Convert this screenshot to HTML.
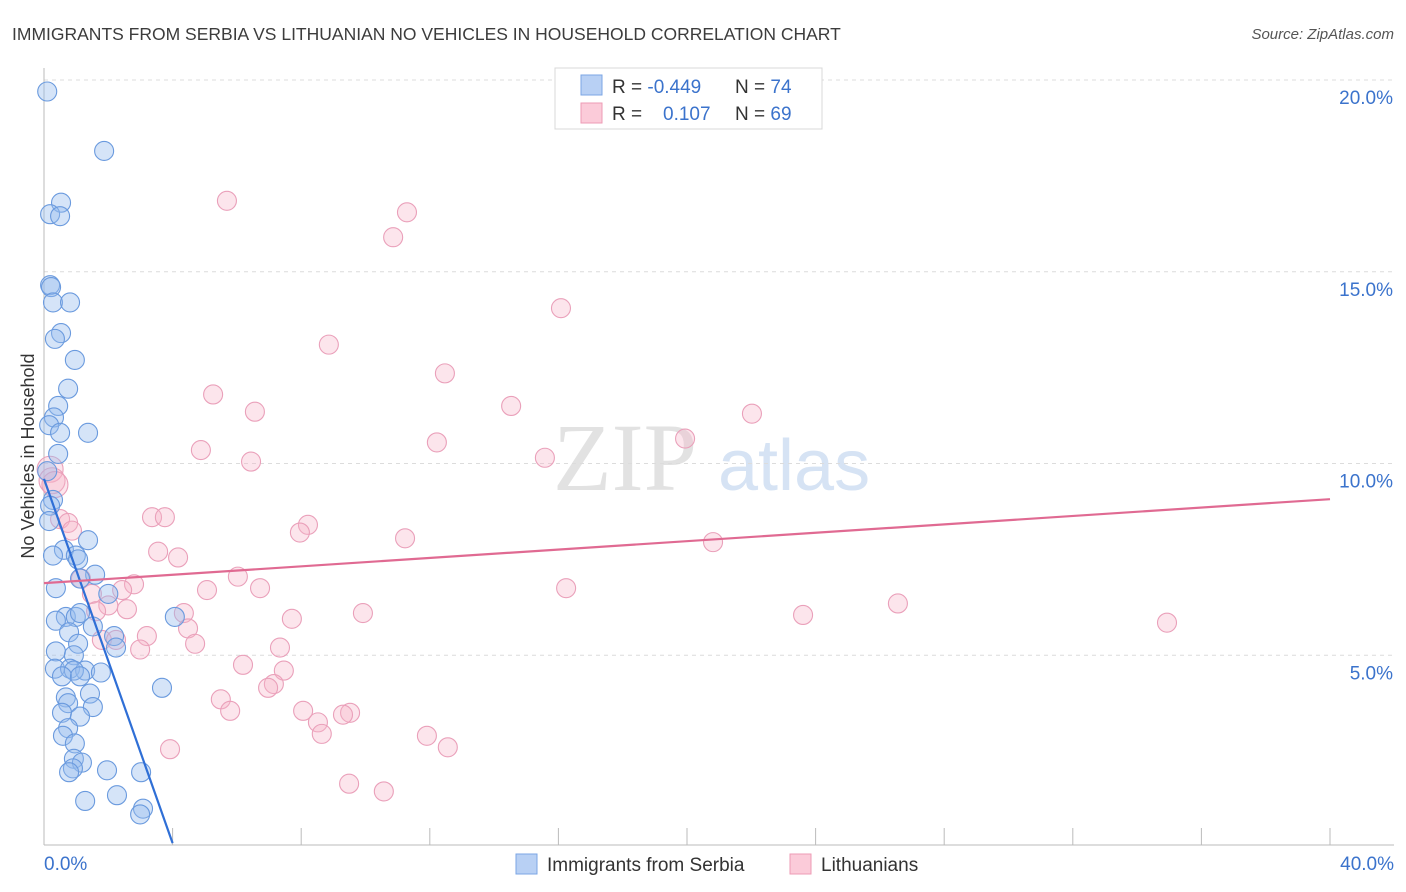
<!DOCTYPE html>
<html><head><meta charset="utf-8"><style>
body{margin:0;background:#fff;font-family:"Liberation Sans",sans-serif;}
svg{display:block}
</style></head><body>
<svg id="chart" width="1406" height="892" viewBox="0 0 1406 892">
<text x="12" y="40" font-size="17.5" fill="#3c3c3c">IMMIGRANTS FROM SERBIA VS LITHUANIAN NO VEHICLES IN HOUSEHOLD CORRELATION CHART</text>
<text x="1394" y="39" font-size="15" fill="#555" font-style="italic" text-anchor="end">Source: ZipAtlas.com</text>
<g>
<text x="553" y="490" font-family="Liberation Serif,serif" font-size="96" fill="#e2e2e2">ZIP</text>
<text x="718" y="490" font-size="72" fill="#d6e3f4">atlas</text>
</g>
<g id="grid"></g>
<g id="axes"></g>
<g id="pts"></g>
<g id="trends"></g>
<g>
<rect x="555" y="68" width="267" height="61" fill="#fff" stroke="#d8d8d8"/>
<rect x="581" y="75" width="21" height="20" fill="#b8d0f4" stroke="#7ba6e4"/>
<rect x="581" y="103" width="21" height="20" fill="#fbcbd9" stroke="#ee9bb5"/>
<text x="612" y="93" font-size="19" fill="#333">R = <tspan fill="#3b73cc">-0.449</tspan></text>
<text x="735" y="93" font-size="19" fill="#333">N = <tspan fill="#3b73cc">74</tspan></text>
<text x="612" y="120" font-size="19" fill="#333">R = </text>
<text x="663" y="120" font-size="19" fill="#3b73cc">0.107</text>
<text x="735" y="120" font-size="19" fill="#333">N = <tspan fill="#3b73cc">69</tspan></text>
</g>
<g>
<rect x="516" y="854" width="21" height="20" fill="#b8d0f4" stroke="#7ba6e4"/>
<text x="547" y="871" font-size="19" fill="#333">Immigrants from Serbia</text>
<rect x="790" y="854" width="21" height="20" fill="#fbcbd9" stroke="#ee9bb5"/>
<text x="821" y="871" font-size="19" fill="#333">Lithuanians</text>
</g>
<text transform="translate(34,456) rotate(-90)" font-size="18" fill="#333" text-anchor="middle">No Vehicles in Household</text>
</svg>
<script>
const yTicks=[5,10,15,20];
const yTickLabels=["5.0%","10.0%","15.0%","20.0%"];
const xTickVals=[0,4,8,12,16,20,24,28,32,36,40];
const xMinLabel="0.0%", xMaxLabel="40.0%";
const serbiaX=[0.1,1.87,0.53,0.19,0.5,0.19,0.22,0.28,0.81,0.53,0.34,0.96,0.75,0.44,0.31,0.16,0.5,1.37,0.44,0.1,0.28,0.19,0.16,1.37,0.62,0.99,0.28,1.06,1.59,1.12,0.37,2.0,0.68,0.99,0.37,1.12,4.07,1.52,0.78,2.18,1.06,2.24,0.37,0.93,0.34,0.81,1.28,0.93,1.77,0.56,1.12,3.67,1.43,0.68,0.75,1.52,0.56,1.12,0.75,0.59,0.96,0.93,1.18,0.9,0.78,1.96,3.02,2.27,1.28,3.08,2.99];
const serbiaY=[19.7,18.15,16.8,16.5,16.45,14.65,14.6,14.2,14.2,13.4,13.25,12.7,11.95,11.5,11.2,11.0,10.8,10.8,10.25,9.8,9.05,8.9,8.5,8.0,7.75,7.6,7.6,7.5,7.1,7.0,6.75,6.6,6.0,6.0,5.9,6.1,6.0,5.75,5.6,5.5,5.3,5.2,5.1,5.0,4.65,4.65,4.6,4.6,4.55,4.45,4.45,4.15,4.0,3.9,3.75,3.65,3.5,3.4,3.1,2.9,2.7,2.3,2.2,2.05,1.95,2.0,1.95,1.35,1.2,1.0,0.85];
const lithX=[5.69,11.29,10.86,16.08,8.86,12.47,5.26,14.53,6.56,22.02,19.94,12.22,4.88,15.58,6.44,0.19,0.25,0.34,3.36,3.76,0.5,0.75,8.21,7.96,0.87,11.23,20.81,3.55,4.17,1.15,6.03,2.8,2.43,6.72,16.24,5.07,1.49,2.0,26.56,1.62,2.58,9.92,23.61,4.35,7.71,34.93,4.48,3.2,1.8,2.24,4.7,2.99,7.34,6.19,7.46,7.15,6.97,5.5,5.79,8.06,9.52,9.3,8.52,8.64,11.91,12.56,3.92,9.49,10.57];
const lithY=[16.85,16.55,15.9,14.05,13.1,12.35,11.8,11.5,11.35,11.3,10.65,10.55,10.35,10.15,10.05,9.85,9.55,9.45,8.6,8.6,8.55,8.45,8.4,8.2,8.25,8.05,7.95,7.7,7.55,7.0,7.05,6.85,6.7,6.75,6.75,6.7,6.6,6.3,6.35,6.15,6.2,6.1,6.05,6.1,5.95,5.85,5.7,5.5,5.4,5.4,5.3,5.15,5.2,4.75,4.6,4.25,4.15,3.85,3.55,3.55,3.5,3.45,3.25,2.95,2.9,2.6,2.55,1.65,1.45];
const serbiaTrendX=[0,4.0];
const serbiaTrendY=[9.6,0.1];
const lithTrendX=[0,40];
const lithTrendY=[6.88,9.07];

const X0=44,X1=1330,Y0=847,YPX=38.35;
const sx=v=>X0+(X1-X0)*v/40;
const sy=v=>Y0-v*YPX;
const NS="http://www.w3.org/2000/svg";
function mk(tag,attrs,parent){const e=document.createElementNS(NS,tag);for(const k in attrs)e.setAttribute(k,attrs[k]);document.getElementById(parent).appendChild(e);return e;}

yTicks.forEach((t,i)=>{
  const l=mk('line',{x1:X0,x2:1394,y1:sy(t),y2:sy(t),stroke:'#dcdcdc','stroke-dasharray':'4,4'},'grid');
  
  
  const tx=mk('text',{x:1393,y:sy(t)+24,'font-size':19,fill:'#3b73cc','text-anchor':'end'},'grid');
  tx.textContent=yTickLabels[i];
  
  
});
let a=mk('line',{x1:X0,x2:X0,y1:68,y2:845,stroke:'#bbb'},'axes');


a=mk('line',{x1:X0,x2:1394,y1:845,y2:845,stroke:'#bbb'},'axes');


xTickVals.forEach(t=>{
  const l=mk('line',{x1:sx(t),x2:sx(t),y1:828,y2:845,stroke:'#bbb'},'axes');
  
  
});
let t0=mk('text',{x:44,y:870,'font-size':19,fill:'#3b73cc'},'axes');t0.textContent=xMinLabel;


let t1=mk('text',{x:1394,y:870,'font-size':19,fill:'#3b73cc','text-anchor':'end'},'axes');t1.textContent=xMaxLabel;



lithX.forEach((v,i)=>{
  const r=(v<0.4&&lithY[i]>9.3)?13:9.5;
  const c=mk('circle',{cx:sx(v),cy:sy(lithY[i]),r:r,fill:'rgba(246,180,200,0.35)',stroke:'#eaa0ba','stroke-width':1.1},'pts');
  
  
});
serbiaX.forEach((v,i)=>{
  const c=mk('circle',{cx:sx(v),cy:sy(serbiaY[i]),r:9.5,fill:'rgba(150,188,238,0.4)',stroke:'#6a9ade','stroke-width':1.1},'pts');
  
  
});
let tl=mk('line',{x1:sx(serbiaTrendX[0]),y1:sy(serbiaTrendY[0]),x2:sx(serbiaTrendX[1]),y2:sy(serbiaTrendY[1]),stroke:'#2f6fd6','stroke-width':2.2},'trends');


tl=mk('line',{x1:sx(lithTrendX[0]),y1:sy(lithTrendY[0]),x2:sx(lithTrendX[1]),y2:sy(lithTrendY[1]),stroke:'#e06a92','stroke-width':2.2},'trends');


</script>
</body></html>
